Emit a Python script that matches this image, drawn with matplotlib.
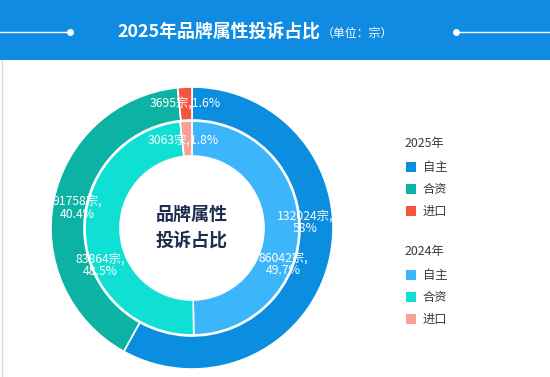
import matplotlib
matplotlib.use('Agg')
import matplotlib.pyplot as plt
from matplotlib.patches import Rectangle
import numpy as np

plt.rcParams['font.family'] = ['Noto Sans CJK SC', 'DejaVu Sans']

categories = ['自主', '合资', '进口']
vals_2025 = [132024, 91758, 3695]
pcts_2025 = ['58%', '40.4%', '1.6%']
vals_2024 = [86042, 83864, 3063]
pcts_2024 = ['49.7%', '48.5%', '1.8%']
years = ['2025年', '2024年']

colors_2025 = ['#0b8de0', '#0cb3a4', '#f5553e']
colors_2024 = ['#3db5fb', '#10e0d3', '#f7a093']

W, H = 550, 377
fig = plt.figure(figsize=(W / 100, H / 100), dpi=100)
bg = fig.add_axes([0, 0, 1, 1])
bg.set_xlim(0, W)
bg.set_ylim(H, 0)
bg.axis('off')

# header band
bg.add_patch(Rectangle((0, 0), W, 60, color='#0f8ce1', lw=0))
bg.plot([2, 2], [60, H], color='#d8d8d8', lw=1)
bg.plot([0, 70], [32, 32], color='white', lw=1)
bg.plot([456, W], [32, 32], color='white', lw=1)
bg.plot([70, 456], [32, 32], 'o', color='white', ms=4)
bg.text(320, 32, '2025年品牌属性投诉占比', color='white', fontsize=12.9,
        fontweight='bold', ha='right', va='center')
bg.text(322, 33, '（单位：宗）', color='white', fontsize=8.6, ha='left', va='center')

# donut axes, pixel units around the centre (192, 228)
cx, cy, half = 192, 228, 150
ax = fig.add_axes([(cx - half) / W, (H - cy - half) / H, 2 * half / W, 2 * half / H])

ax.pie(vals_2025, radius=141, colors=colors_2025, startangle=90, counterclock=False,
       wedgeprops=dict(width=33, edgecolor='white', linewidth=1.2))
ax.pie(vals_2024, radius=107, colors=colors_2024, startangle=90, counterclock=False,
       wedgeprops=dict(width=35, edgecolor='white', linewidth=1.2))
ax.set_xlim(-half, half)
ax.set_ylim(-half, half)
ax.set_aspect('equal')
ax.axis('off')

# label placement (angle in degrees, radius in px)
lbl_ang_2025 = [3, 170, 93]
lbl_r_2025 = [113, 116, 125]
lbl_ang_2024 = [-22, 202, 96]
lbl_r_2024 = [98, 99, 88]

def put_labels(vals, pcts, angs, rs):
    for i, (v, p) in enumerate(zip(vals, pcts)):
        a = np.deg2rad(angs[i])
        sep = ',' if i == len(vals) - 1 else ',\n'
        ax.text(rs[i] * np.cos(a), rs[i] * np.sin(a), f'{v}宗{sep}{p}', color='white',
                fontsize=8.8, ha='center', va='center', linespacing=0.95)

put_labels(vals_2025, pcts_2025, lbl_ang_2025, lbl_r_2025)
put_labels(vals_2024, pcts_2024, lbl_ang_2024, lbl_r_2024)

ax.text(0, 14, '品牌属性', color='#1e2d4f', fontsize=13, fontweight='bold',
        ha='center', va='center')
ax.text(0, -13, '投诉占比', color='#1e2d4f', fontsize=13, fontweight='bold',
        ha='center', va='center')

# legend
for yr, cols, ytop in zip(years, [colors_2025, colors_2024], [144, 252]):
    bg.text(405, ytop, yr, color='#3a3a3a', fontsize=8.9, ha='left', va='center')
    for j, (cat, c) in enumerate(zip(categories, cols)):
        yc = ytop + 23 + j * 22
        bg.add_patch(Rectangle((406, yc - 5), 10, 10, color=c, lw=0))
        bg.text(423, yc, cat, color='#3a3a3a', fontsize=8.8, ha='left', va='center')

fig.savefig('out.png', dpi=100)
